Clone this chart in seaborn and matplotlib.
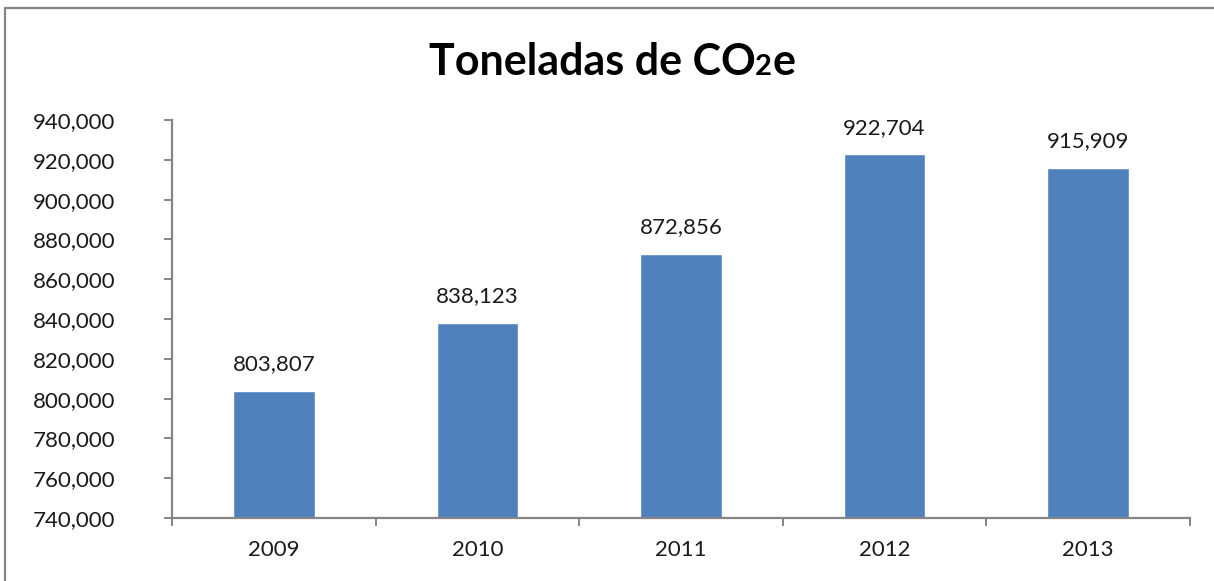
import matplotlib
matplotlib.use("Agg")
import matplotlib.pyplot as plt
from matplotlib.lines import Line2D
from matplotlib.ticker import FuncFormatter, FixedLocator
import seaborn as sns
import pandas as pd

# Emissions per year (tonnes CO2e)
years = ["2009", "2010", "2011", "2012", "2013"]
tonnes = [803807, 838123, 872856, 922704, 915909]
y_ticks = [740000, 760000, 780000, 800000, 820000, 840000, 860000, 880000,
           900000, 920000, 940000]

bar_color = "#4F81BD"
axis_color = "#868686"
font = ["Lato", "DejaVu Sans"]

sns.set_theme(style="white")
plt.rcParams["font.family"] = font

df = pd.DataFrame({"year": years, "tonnes": tonnes})

fig = plt.figure(figsize=(12.14, 5.81), dpi=100)
ax = fig.add_axes([172 / 1214, 1 - 518 / 581, (1190 - 172) / 1214, (518 - 120) / 581])

sns.barplot(data=df, x="year", y="tonnes", color=bar_color, width=0.4,
            saturation=1, ax=ax)

ax.set_xlim(-0.5, len(years) - 0.5)
ax.set_ylim(y_ticks[0], y_ticks[-1])
ax.set_yticks(y_ticks)
ax.yaxis.set_major_formatter(FuncFormatter(lambda v, p: f"{int(v):,}"))
ax.set_xlabel("")
ax.set_ylabel("")

# category boundaries carry the tick marks, labels sit at the centres
ax.xaxis.set_minor_locator(FixedLocator([i - 0.5 for i in range(len(years) + 1)]))
ax.tick_params(axis="x", which="major", length=0, pad=16, labelsize=16,
               labelcolor="#1a1a1a")
ax.tick_params(axis="x", which="minor", bottom=True, length=6, width=1.4,
               color=axis_color)
ax.tick_params(axis="y", left=True, length=6, width=1.4, color=axis_color,
               pad=35, labelsize=16, labelcolor="#1a1a1a")

for side in ("top", "right"):
    ax.spines[side].set_visible(False)
for side in ("left", "bottom"):
    ax.spines[side].set_color(axis_color)
    ax.spines[side].set_linewidth(1.6)

# value labels above each bar
for i, v in enumerate(tonnes):
    ax.annotate(f"{v:,}", (i, v), xytext=(0, 12), textcoords="offset points",
                ha="center", va="bottom", fontsize=16, color="#1a1a1a")

# title with a small "2" in CO2e
fig.canvas.draw()
renderer = fig.canvas.get_renderer()
parts = [("Toneladas de CO", 31), ("2", 21), ("e", 31)]
texts = []
widths = []
for s, size in parts:
    t = fig.text(0, 0, s, fontsize=size, fontweight="bold", color="#000000",
                 ha="left", va="baseline")
    texts.append(t)
    widths.append(t.get_window_extent(renderer).width)
total = sum(widths)
x0 = 612 - total / 2
baseline = 1 - 75 / 581
for t, w in zip(texts, widths):
    t.set_position((x0 / 1214, baseline))
    x0 += w

# chart frame
fig.add_artist(Line2D([5 / 1214, 5 / 1214], [0, 1 - 8 / 581],
                      transform=fig.transFigure, color=axis_color, lw=1.6))
fig.add_artist(Line2D([5 / 1214, 1], [1 - 8 / 581, 1 - 8 / 581],
                      transform=fig.transFigure, color=axis_color, lw=1.6))

fig.savefig("out.png", dpi=100, facecolor="white")
